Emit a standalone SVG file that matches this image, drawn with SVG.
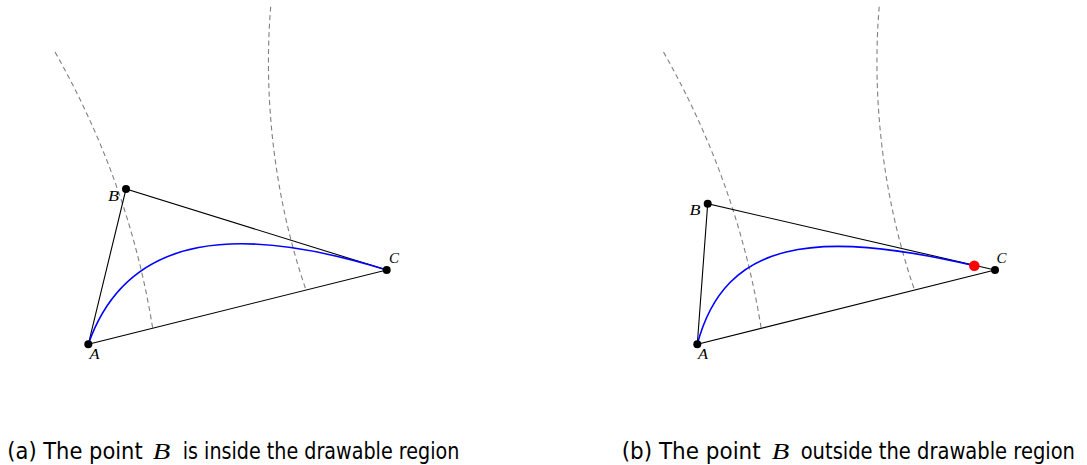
<svg xmlns="http://www.w3.org/2000/svg" width="1087" height="465" viewBox="0 0 1087 465">
<style>
.tri{fill:none;stroke:#000;stroke-width:1.1}
.dash{fill:none;stroke:#808080;stroke-width:1.1;stroke-dasharray:5 3.5}
.curve{fill:none;stroke:#0000ff;stroke-width:1.6}
.pt{fill:#000}
.red{fill:#ff0000}
.lbl{font-family:"Liberation Serif",serif;font-style:italic;font-size:14px;fill:#000}
.cap{font-family:"DejaVu Sans","Liberation Sans",sans-serif;font-size:23px;fill:#000}
.capm{font-family:"Liberation Serif",serif;font-style:italic;font-size:23px;fill:#000}
</style>
<rect width="1087" height="465" fill="#fff"/>
<g id="connectors">
  <path class="dash" d="M55,52 Q129.5,183.3 152.7,328.3"/>
  <path class="dash" d="M270.7,6.7 C263,100 275,200 306,290"/>
  <path class="tri" d="M88.3,344.3 L126,189 L386.7,270 Z"/>
  <path class="curve" d="M88.3,344.3 C128,230 243.3,225.4 386.7,270"/>
  <path class="dash" d="M663.5,52 Q738,183.3 761.2,328.3"/>
  <path class="dash" d="M879.2,6.7 C871.5,100 883.5,200 914.5,290"/>
  <path class="tri" d="M697.3,344.3 L707.7,203.7 L995,270 Z"/>
  <path class="curve" d="M697.3,344.3 C725,240 814.3,228.5 974.3,265.7"/>
</g>
<g id="nodeA1"><circle class="pt" cx="88.3" cy="344.3" r="4"/><text class="lbl" x="89.5" y="358.5" textLength="10" lengthAdjust="spacingAndGlyphs">A</text></g>
<g id="nodeB1"><circle class="pt" cx="126" cy="189" r="4"/><text class="lbl" x="108" y="200.5" textLength="11" lengthAdjust="spacingAndGlyphs">B</text></g>
<g id="nodeC1"><circle class="pt" cx="386.7" cy="270" r="4"/><text class="lbl" x="389" y="263.3" textLength="10" lengthAdjust="spacingAndGlyphs">C</text></g>
<g id="nodeA2"><circle class="pt" cx="697.3" cy="344.3" r="4"/><text class="lbl" x="698" y="358.5" textLength="10" lengthAdjust="spacingAndGlyphs">A</text></g>
<g id="nodeB2"><circle class="pt" cx="707.7" cy="203.7" r="4"/><text class="lbl" x="689.5" y="215" textLength="11" lengthAdjust="spacingAndGlyphs">B</text></g>
<g id="nodeC2"><circle class="pt" cx="995" cy="270" r="4"/><text class="lbl" x="996.5" y="263.3" textLength="10" lengthAdjust="spacingAndGlyphs">C</text></g>
<g id="nodeR2"><circle class="red" cx="974.3" cy="265.7" r="5.3"/></g>
<g id="captionA">
  <text class="cap" x="7.3" y="459" textLength="135.4" lengthAdjust="spacingAndGlyphs">(a) The point</text>
  <text class="capm" x="152.7" y="459" textLength="17.5" lengthAdjust="spacingAndGlyphs">B</text>
  <text class="cap" x="182.7" y="459" textLength="276.6" lengthAdjust="spacingAndGlyphs">is inside the drawable region</text>
</g>
<g id="captionB">
  <text class="cap" x="621.7" y="459" textLength="139" lengthAdjust="spacingAndGlyphs">(b) The point</text>
  <text class="capm" x="771.7" y="459" textLength="17.5" lengthAdjust="spacingAndGlyphs">B</text>
  <text class="cap" x="800.7" y="459" textLength="274.3" lengthAdjust="spacingAndGlyphs">outside the drawable region</text>
</g>
</svg>
